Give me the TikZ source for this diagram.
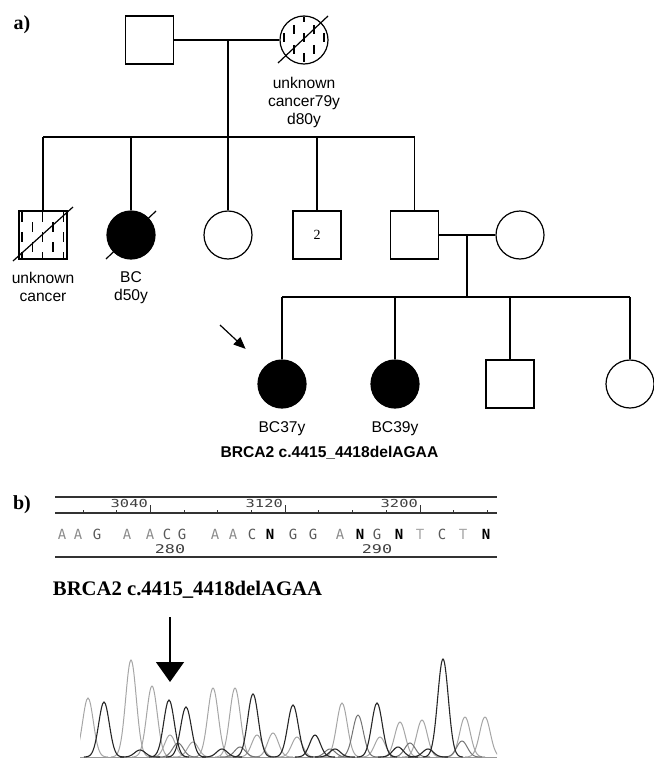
\documentclass[tikz,border=0pt]{standalone}
\usepackage{fontspec}
\setmainfont{Liberation Serif}
\setsansfont{Liberation Sans}
\newfontfamily\seqfont{DejaVu Sans Mono}
\newfontfamily\numfont[FakeStretch=1.4]{DejaVu Sans Mono}
\usetikzlibrary{positioning,arrows.meta}

\def \symsize {48pt}
\def \linew {1.2pt}
\def \baseliney {757}

\begin{document}
\begin{tikzpicture}[x=1pt, y=-1pt,
  male/.style={draw, rectangle, minimum size=\symsize, inner sep=0pt, line width=\linew},
  female/.style={draw, circle, minimum size=\symsize, inner sep=0pt, line width=\linew},
  affected/.style={fill=black},
  link/.style={line width=\linew},
  hatch/.style={line width=1.4pt},
  lbl/.style={font=\sffamily\fontsize{15.6}{18}\selectfont, align=center, inner sep=0pt},
  panel/.style={font=\bfseries\fontsize{20}{24}\selectfont, inner sep=0pt},
  seq/.style={font=\seqfont\fontsize{14}{14}\selectfont, inner sep=0pt},
  baseA/.style={seq, text=black!45},
  baseT/.style={seq, text=black!35},
  baseC/.style={seq, text=black!65},
  baseG/.style={seq, text=black!65},
  baseN/.style={seq, font=\seqfont\bfseries\fontsize{14}{14}\selectfont, text=black},
  rulenum/.style={font=\numfont\fontsize{11}{11}\selectfont, text=black!75, inner sep=0pt},
  posnum/.style={font=\numfont\fontsize{12}{12}\selectfont, text=black!75, inner sep=0pt},
  tracelight/.style={black!35, line width=1pt},
  tracemid/.style={black!55, line width=1pt},
  tracedark/.style={black!85, line width=1.1pt}
]
\useasboundingbox (0,0) rectangle (653,760);

% a) pedigree
\node[panel] (pa) at (22,25) {a)};

% generation I
\node[male] (gf) at (149.5,40) {};
\node[female] (gm) at (304,40) {};
\begin{scope}[shift={(gm.center)}]
  \clip (0,0) circle (23.5);
  \foreach \i in {-2,...,2}
    \foreach \k in {0,...,3}
      \draw[hatch] (10*\i, {-27+12*mod(abs(\i),2)+20*\k}) -- ++(0,9);
\end{scope}
\draw[link] (-26,23) ++(gm.center) -- ++(50,-47);
\node[lbl, below=12pt of gm] (gmlbl) {unknown\\cancer79y\\d80y};
\draw[link] (gf) -- (gm);
\coordinate (c1) at (228,40);
\coordinate (s1w) at (43,137);
\coordinate (s1e) at (414.5,137);

% generation II
\node[male] (u2) at (43,235) {};
\begin{scope}[shift={(u2.center)}]
  \clip (-24,-24) rectangle (24,24);
  \foreach \i in {0,...,4}
    \foreach \k in {0,...,3}
      \draw[hatch] (-21+10.3*\i, {-33+10*mod(\i+1,2)+20*\k}) -- ++(0,10);
\end{scope}
\draw[link] (-30,26) ++(u2.center) -- ++(60,-54);
\node[female, affected] (bc) at (131,235) {};
\draw[link] (-25,24) ++(bc.center) -- ++(50,-48);
\node[female] (f2) at (228,235) {};
\node[male, font=\fontsize{14}{14}\selectfont] (m2) at (317,235) {2};
\node[male] (fa) at (414.5,235) {};
\node[female] (mo) at (520,235) {};
\node[lbl, below=12pt of u2] (u2lbl) {unknown\\cancer};
\node[lbl, below=12pt of bc] (bclbl) {BC\\d50y};

\draw[link] (c1) -- (f2);
\draw[link] (s1w) -- (s1e);
\foreach \n in {u2,bc,m2,fa}
  \draw[link] (\n |- s1w) -- (\n.north);

% generation III
\draw[link] (fa) -- (mo);
\coordinate (c2) at (467,235);
\coordinate (s2w) at (282,297);
\coordinate (s2e) at (630,297);
\draw[link] (c2) -- (c2 |- s2w);
\draw[link] (s2w) -- (s2e);

\node[female, affected] (p1) at (282,384) {};
\node[female, affected] (p2) at (395,384) {};
\node[male] (s3) at (510,384) {};
\node[female] (d4) at (630,384) {};
\foreach \n in {p1,p2,s3,d4}
  \draw[link] (\n |- s2w) -- (\n.north);

\coordinate (pr) at (220,325);
\draw[link, -{Triangle[length=12pt,width=10pt]}, shorten >=26pt] (pr) -- (p1.north west);
\node[lbl, below=13pt of p1] (p1lbl) {BC37y};
\node[lbl, below=13pt of p2] (p2lbl) {BC39y};
\node[lbl, font=\sffamily\bfseries\fontsize{15.6}{18}\selectfont, anchor=base] (mutlbl) at (329.5,457.5) {BRCA2 c.4415\_4418delAGAA};

% b) sequence trace
\node[panel] (pb) at (22,505) {b)};
\draw[black!80, line width=1.2pt] (55,497) -- (497,497);
\draw[black!80, line width=1.2pt] (55,513) -- (497,513);
\draw[black!80, line width=1.2pt] (55,557) -- (497,557);
\foreach \k in {0,...,12}
  \draw[black!80, line width=1pt] (83+33.7*\k,513) -- ++(0,-3);
\foreach \k in {2,6,10}
  \draw[black!80, line width=1pt] (83+33.7*\k,513) -- ++(0,-8);
\node[rulenum, anchor=base east] (r3040) at (148,507) {3040};
\node[rulenum, anchor=base east] (r3120) at (283,507) {3120};
\node[rulenum, anchor=base east] (r3200) at (418,507) {3200};

\foreach \px/\b in {62/A, 78/A, 97/G, 127/A, 150/A, 167/C, 182/G, 215/A, 233/A,
  252/C, 270/N, 293/G, 313/G, 340/A, 360/N, 377/G, 399/N, 420/T, 442/C, 463/T, 486/N}
  \node[base\b, anchor=base] (b\px) at (\px,539) {\b};
\node[posnum, anchor=base] (n280) at (170,553) {280};
\node[posnum, anchor=base] (n290) at (377,553) {290};

\node[font=\bfseries\fontsize{20.7}{24}\selectfont, inner sep=0pt] (mut) at (187.5,590) {BRCA2 c.4415\_4418delAGAA};
\coordinate (mt) at (170,617);
\coordinate (mp) at (170,682);
\draw[line width=1.5pt, -{Triangle[length=20pt,width=28pt]}] (mt) -- (mp);

% chromatogram
\begin{scope}
  \clip (80,600) rectangle (497,760);
  \draw[black!40, line width=0.8pt] (80,\baseliney) -- (497,\baseliney);
  \foreach \px/\h in {88/59, 131/97, 152/71, 213/69, 235/69, 342/54, 400/35, 422/37,
    465/40, 485/40, 170/22, 257/22, 273/24, 297/20, 193/15, 380/20}
    \draw[tracelight] plot[domain=\px-20:\px+20, samples=31, smooth]
      (\x, {\baseliney-\h*exp(-((\x-\px)/7.5)^2)});
  \foreach \px/\h in {358/42, 178/14, 240/10, 410/14, 462/16, 330/8}
    \draw[tracemid] plot[domain=\px-20:\px+20, samples=31, smooth]
      (\x, {\baseliney-\h*exp(-((\x-\px)/7.5)^2)});
  \foreach \px/\h in {104/55, 169/57, 186/50, 253/63, 293/52, 315/22, 377/54, 443/98,
    140/7, 222/8, 335/8, 398/10, 428/8}
    \draw[tracedark] plot[domain=\px-20:\px+20, samples=31, smooth]
      (\x, {\baseliney-\h*exp(-((\x-\px)/7.5)^2)});
\end{scope}
\end{tikzpicture}
\end{document}
